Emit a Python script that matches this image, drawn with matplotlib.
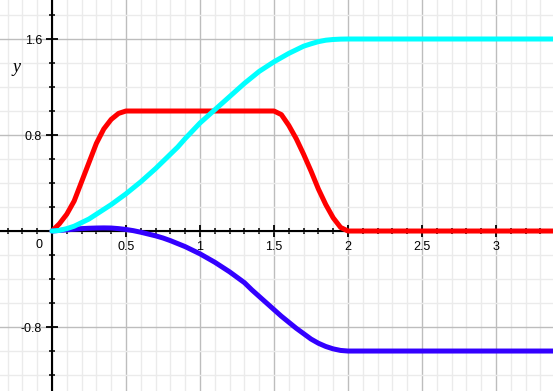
import matplotlib
matplotlib.use("Agg")
import matplotlib.pyplot as plt
from matplotlib.ticker import MultipleLocator

# sample points (x) and curve values
x = [0.0, 0.05, 0.1, 0.15, 0.2, 0.25, 0.3, 0.35, 0.4, 0.45,
     0.5, 0.55, 0.6, 0.65, 0.7, 0.75, 0.8, 0.85, 0.9, 0.95,
     1.0, 1.05, 1.1, 1.15, 1.2, 1.25, 1.3, 1.35, 1.4, 1.45,
     1.5, 1.55, 1.6, 1.65, 1.7, 1.75, 1.8, 1.85, 1.9, 1.95,
     2.0, 3.4]

red = [0.0, 0.06, 0.14, 0.25, 0.41, 0.57, 0.73, 0.85, 0.93, 0.98,
       1.0, 1.0, 1.0, 1.0, 1.0, 1.0, 1.0, 1.0, 1.0, 1.0,
       1.0, 1.0, 1.0, 1.0, 1.0, 1.0, 1.0, 1.0, 1.0, 1.0,
       1.0, 0.97, 0.88, 0.77, 0.64, 0.5, 0.35, 0.22, 0.11, 0.03,
       0.0, 0.0]

cyan = [0.0, 0.005, 0.02, 0.04, 0.07, 0.10, 0.14, 0.18, 0.22, 0.265,
        0.31, 0.36, 0.41, 0.465, 0.52, 0.58, 0.64, 0.70, 0.77, 0.835,
        0.90, 0.955, 1.01, 1.065, 1.12, 1.175, 1.23, 1.28, 1.33, 1.37,
        1.41, 1.445, 1.48, 1.51, 1.54, 1.56, 1.578, 1.59, 1.596, 1.599,
        1.6, 1.6]

blue = [0.0, 0.005, 0.01, 0.015, 0.02, 0.023, 0.025, 0.026, 0.025, 0.02,
        0.013, 0.003, -0.01, -0.025, -0.04, -0.058, -0.08, -0.105, -0.13, -0.16,
        -0.19, -0.225, -0.26, -0.30, -0.34, -0.385, -0.43, -0.49, -0.545, -0.60,
        -0.655, -0.71, -0.76, -0.81, -0.855, -0.9, -0.935, -0.962, -0.982, -0.995,
        -1.0, -1.0]

xtick_vals = [0.5, 1, 1.5, 2, 2.5, 3]
xtick_labels = ["0.5", "1", "1.5", "2", "2.5", "3"]
ytick_vals = [-0.8, 0.8, 1.6]
ytick_labels = ["-0.8", "0.8", "1.6"]

plt.rcParams['font.family'] = ['Liberation Sans', 'DejaVu Sans']

fig = plt.figure(figsize=(5.53, 3.91), dpi=100)
ax = fig.add_axes([0, 0, 1, 1])
ax.set_xlim(-0.351, 3.385)
ax.set_ylim(-1.333, 1.925)

# grid
ax.xaxis.set_major_locator(MultipleLocator(0.5))
ax.xaxis.set_minor_locator(MultipleLocator(0.1))
ax.yaxis.set_major_locator(MultipleLocator(0.8))
ax.yaxis.set_minor_locator(MultipleLocator(0.2))
ax.grid(which='minor', color='#ebebeb', lw=1.0, zorder=0)
ax.grid(which='major', color='#bdbdbd', lw=1.0, zorder=0)

# spines through origin
for s in ['top', 'right']:
    ax.spines[s].set_visible(False)
ax.spines['left'].set_position(('data', 0))
ax.spines['bottom'].set_position(('data', 0))
ax.spines['left'].set_linewidth(1.5)
ax.spines['bottom'].set_linewidth(1.5)

ax.tick_params(which='major', direction='inout', length=8, width=1.3, labelsize=9, pad=3)
ax.tick_params(which='minor', direction='inout', length=5, width=1.1)
ax.set_xticks(xtick_vals)
ax.set_xticklabels(xtick_labels)
ax.set_yticks(ytick_vals)
ax.set_yticklabels(ytick_labels)
# keep grid lines where ticks were removed
for v in [-0.5, 0]:
    ax.axvline(v, color='#bdbdbd', lw=1.0, zorder=0)
ax.axhline(0, color='#bdbdbd', lw=1.0, zorder=0)
ax.text(-0.09, -0.12, "0", fontsize=9, ha='center', va='center')

ax.text(-0.24, 1.36, "y", fontsize=13, style='italic',
        family='Liberation Serif', ha='center', va='center')

style = dict(lw=3.6, solid_capstyle='round', solid_joinstyle='round')
ax.plot(x, red, color='#ff0000', zorder=3, **style)
ax.plot(x, cyan, color='#00ffff', zorder=4, **style)
ax.plot(x, blue, color='#3300ff', zorder=3, **style)

fig.savefig("out.png", dpi=100)
